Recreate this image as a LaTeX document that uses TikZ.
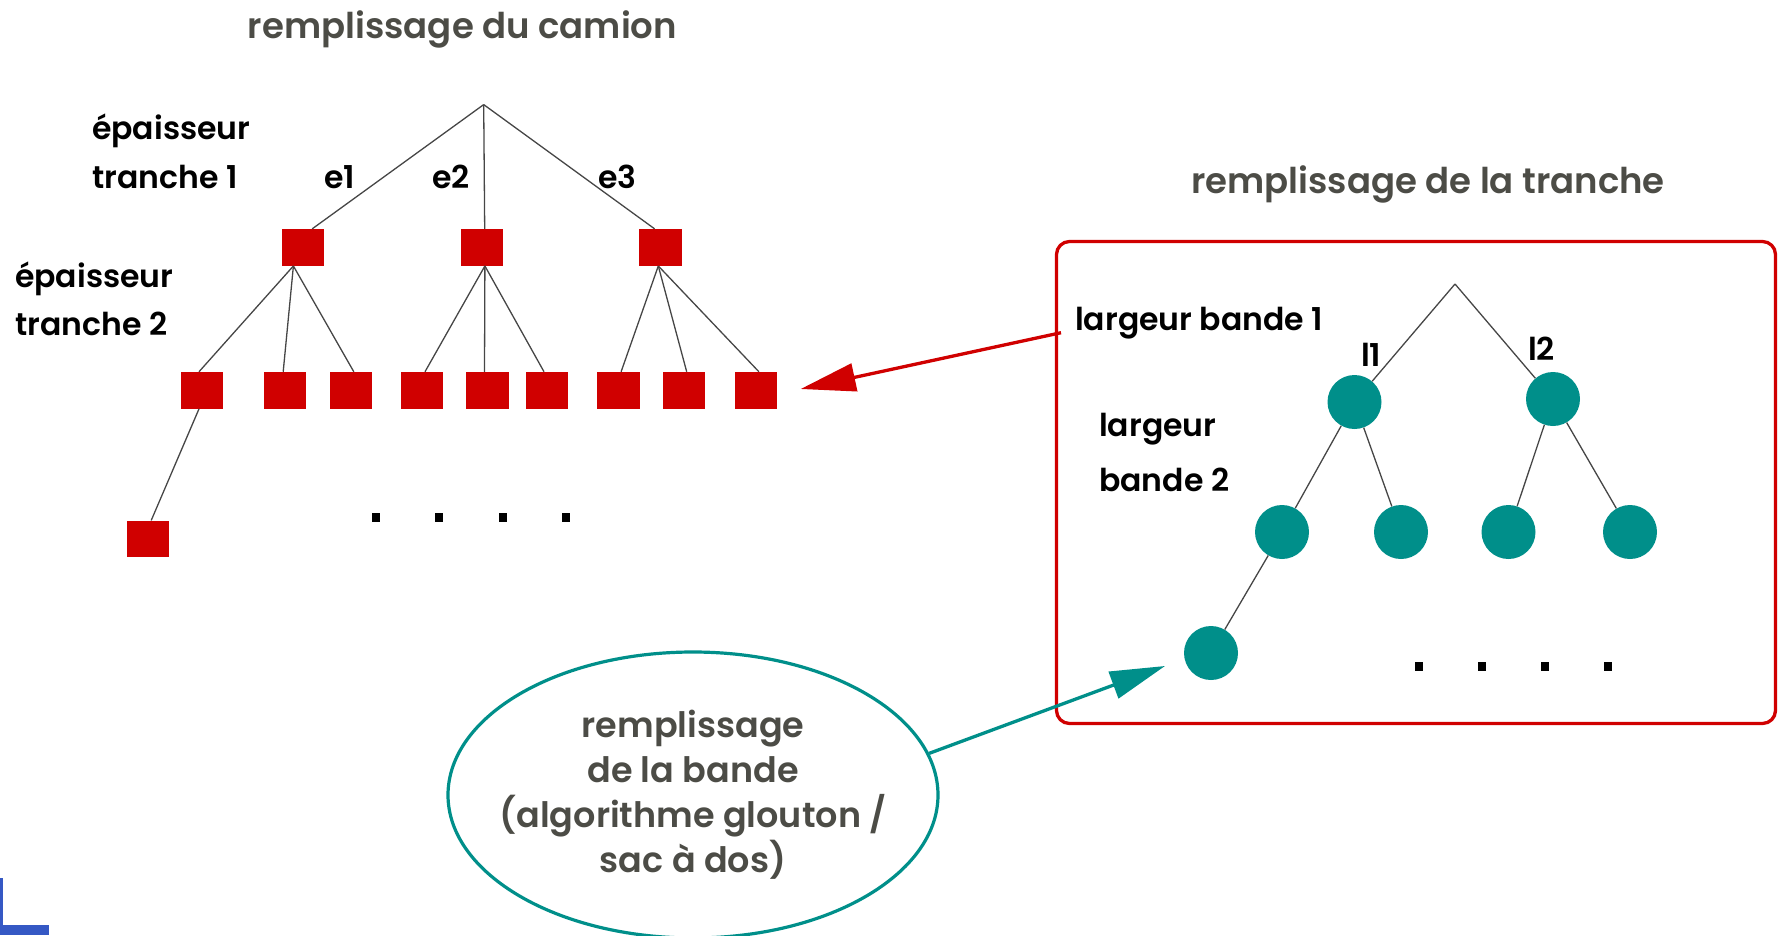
\documentclass[tikz,border=0pt]{standalone}
\usepackage{fontspec}
\setmainfont{Poppins}[UprightFont={* SemiBold}]
\usetikzlibrary{shapes.geometric,arrows.meta}
\definecolor{tred}{RGB}{208,0,0}
\definecolor{tteal}{RGB}{0,143,138}
\definecolor{tgray}{RGB}{76,76,70}
\definecolor{tline}{RGB}{70,70,70}
\definecolor{tblue}{RGB}{53,88,196}
\tikzset{
  sq/.style={rectangle, fill=tred, minimum width=42.5pt, minimum height=36.7pt, inner sep=0pt},
  ball/.style={circle, fill=tteal, minimum size=54pt, inner sep=0pt},
  edge/.style={draw=tline, line width=1.3pt},
  lab/.style={font=\fontsize{31.5}{37}\selectfont, inner sep=0pt, anchor=base west},
  ttl/.style={font=\fontsize{35.5}{40}\selectfont, text=tgray, inner sep=0pt, anchor=base},
  blk/.style={fill=black, inner sep=0pt, minimum width=8pt, minimum height=9pt},
  bigarrow/.style={line width=3.3pt, -{Triangle[length=55pt,width=28pt]}},
}
\begin{document}
\begin{tikzpicture}[x=1pt,y=-1pt]
\useasboundingbox (0,0) rectangle (1778,935);
% titles
\node[ttl] (t1) at (462.5,38.6) {remplissage du camion};
\node[ttl] (t2) at (1428,193.6) {remplissage de la tranche};
% tree 1
\coordinate (r1) at (483.7,104.6);
\node[sq] (A) at (303.2,247.4) {};
\node[sq] (B) at (481.9,247.4) {};
\node[sq] (C) at (660.3,247.4) {};
\node[sq] (a1) at (202,390.3) {};
\node[sq] (a2) at (285.2,390.3) {};
\node[sq] (a3) at (350.8,390.3) {};
\node[sq] (b1) at (422,390.3) {};
\node[sq] (b2) at (487.5,390.3) {};
\node[sq] (b3) at (547,390.3) {};
\node[sq] (c1) at (618.6,390.3) {};
\node[sq] (c2) at (684.2,390.3) {};
\node[sq] (c3) at (755.9,390.3) {};
\node[sq] (d) at (148.2,539) {};
\draw[edge] (r1) -- ([xshift=9pt]A.north);
\draw[edge] (r1) -- ([xshift=2.8pt]B.north);
\draw[edge] (r1) -- ([xshift=-5.7pt]C.north);
\draw[edge] ([xshift=-9.8pt]A.south) -- ([xshift=-3pt]a1.north);
\draw[edge] ([xshift=-9.8pt]A.south) -- ([xshift=-2pt]a2.north);
\draw[edge] ([xshift=-9.8pt]A.south) -- ([xshift=3pt]a3.north);
\draw[edge] ([xshift=3pt]B.south) -- ([xshift=3pt]b1.north);
\draw[edge] ([xshift=3pt]B.south) -- ([xshift=-3pt]b2.north);
\draw[edge] ([xshift=3pt]B.south) -- ([xshift=-3pt]b3.north);
\draw[edge] ([xshift=-2pt]C.south) -- ([xshift=2.5pt]c1.north);
\draw[edge] ([xshift=-2pt]C.south) -- ([xshift=2.5pt]c2.north);
\draw[edge] ([xshift=-2pt]C.south) -- ([xshift=3pt]c3.north);
\draw[edge] ([xshift=-3pt]a1.south) -- ([xshift=3pt]d.north);
\node[lab] (ep1) at (92,139.3) {épaisseur};
\node[lab] (tr1) at (92,188.6) {tranche 1};
\node[lab] (e1) at (324,188.6) {e1};
\node[lab] (e2) at (432,188.6) {e2};
\node[lab] (e3) at (598,188.6) {e3};
\node[lab] (ep2) at (15,287.5) {épaisseur};
\node[lab] (tr2) at (15,335.7) {tranche 2};
\node[blk] (k1) at (376,517.5) {};
\node[blk] (k2) at (439,517.5) {};
\node[blk] (k3) at (503,517.5) {};
\node[blk] (k4) at (566,517.5) {};
% frame
\node[draw=tred, line width=3.3pt, rounded corners=13pt, minimum width=719pt, minimum height=482pt, inner sep=0pt] (frame) at (1416,482.5) {};
% tree 2
\coordinate (r2) at (1455,284);
\node[ball] (p1) at (1354.5,402) {};
\node[ball] (p2) at (1553,399) {};
\node[ball] (q1) at (1282,532) {};
\node[ball] (q2) at (1401,532) {};
\node[ball] (q3) at (1508.5,532) {};
\node[ball] (q4) at (1630,532) {};
\node[ball] (s) at (1211,653) {};
\draw[edge] (r2) -- (p1);
\draw[edge] (r2) -- (p2);
\draw[edge] (p1) -- (q1);
\draw[edge] (p1) -- (q2);
\draw[edge] (p2) -- (q3);
\draw[edge] (p2) -- (q4);
\draw[edge] (q1) -- (s);
\node[lab] (lb1) at (1075,330.5) {largeur bande 1};
\node[lab] (l1) at (1361,366.4) {l1};
\node[lab] (l2) at (1528,360) {l2};
\node[lab] (lg) at (1099,436.7) {largeur};
\node[lab] (bd2) at (1099,491) {bande 2};
\node[blk] (m1) at (1419,666) {};
\node[blk] (m2) at (1482,666) {};
\node[blk] (m3) at (1545,666) {};
\node[blk] (m4) at (1608,666) {};
% ellipse
\node[ellipse, draw=tteal, line width=3.2pt, minimum width=490pt, minimum height=286pt, inner sep=0pt] (ell) at (693,795) {};
\node[align=center, text=tgray, inner sep=0pt, font=\fontsize{35}{45}\selectfont] (elltxt) at (ell.center) {remplissage\\de la bande\\(algorithme glouton /\\sac à dos)};
% arrows
\coordinate (rs) at (1061,332.7);
\coordinate (rt) at (800.7,389);
\draw[bigarrow, tred] (rs) -- (rt);
\coordinate (gt) at (1165,666);
\draw[bigarrow, tteal] (ell.10.4) -- (gt);
% blue corner mark
\fill[tblue] (0,878) rectangle (3,935);
\fill[tblue] (0,925) rectangle (49,935);
\end{tikzpicture}
\end{document}
